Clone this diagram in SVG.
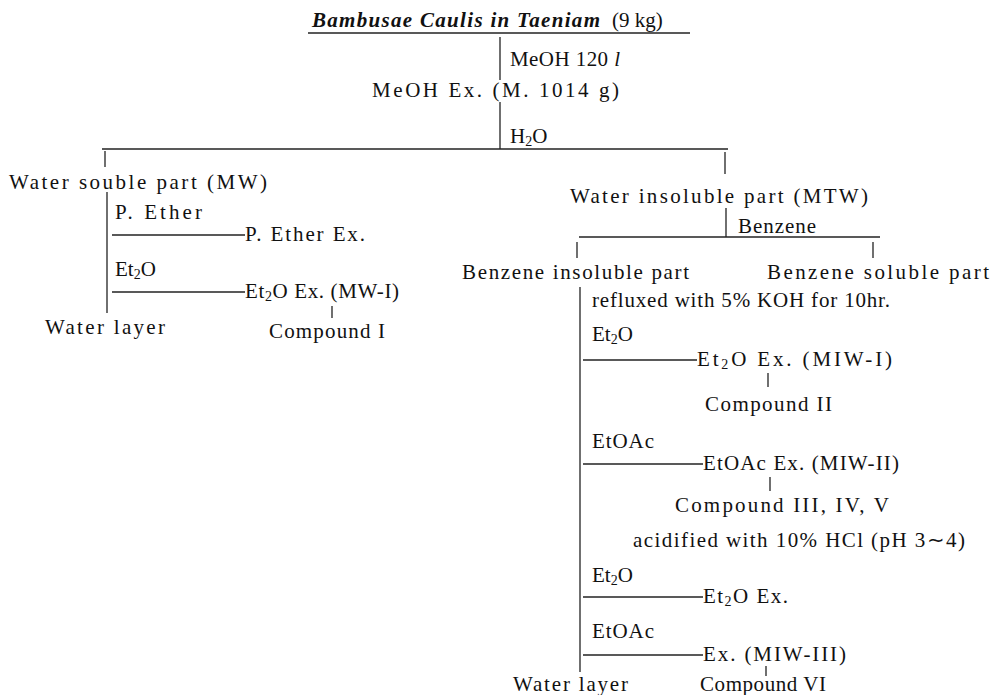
<svg xmlns="http://www.w3.org/2000/svg" width="999" height="695" viewBox="0 0 999 695">
<style>
text{font-family:"Liberation Serif","Times New Roman",serif;font-size:21px;fill:#111}
.ti{font-style:italic;font-weight:bold}
.sub{font-size:14px}
line{stroke:#222;stroke-width:1.3}
</style>
<rect width="999" height="695" fill="#fff"/>
<g id="connectors">
<line x1="308" y1="33" x2="690" y2="33"/>
<line x1="500" y1="37" x2="500" y2="80"/>
<line x1="500" y1="102" x2="500" y2="149"/>
<line x1="102" y1="149" x2="728" y2="149"/>
<line x1="105" y1="151" x2="105" y2="167"/>
<line x1="725" y1="152" x2="725" y2="174"/>
<line x1="107" y1="192" x2="107" y2="313"/>
<line x1="112" y1="235" x2="245" y2="235"/>
<line x1="112" y1="292" x2="245" y2="292"/>
<line x1="332" y1="306" x2="332" y2="318"/>
<line x1="726" y1="208" x2="726" y2="237"/>
<line x1="579" y1="237" x2="880" y2="237"/>
<line x1="577" y1="242" x2="577" y2="258"/>
<line x1="873" y1="242" x2="873" y2="258"/>
<line x1="580" y1="287" x2="580" y2="672"/>
<line x1="583" y1="360" x2="697" y2="360"/>
<line x1="768" y1="373" x2="768" y2="387"/>
<line x1="583" y1="464" x2="703" y2="464"/>
<line x1="770" y1="477" x2="770" y2="491"/>
<line x1="583" y1="597" x2="703" y2="597"/>
<line x1="583" y1="655" x2="703" y2="655"/>
<line x1="766" y1="666" x2="766" y2="676"/>
</g>
<g id="n-source">
<text x="312" y="27" class="ti" textLength="288">Bambusae Caulis in Taeniam</text>
<text x="612" y="27" font-size="22">(9 kg)</text>
</g>
<g id="n-meoh-step"><text x="510" y="66" textLength="110">MeOH 120 <tspan font-style="italic">l</tspan></text></g>
<g id="n-meoh-ex"><text x="372" y="97" textLength="247">MeOH Ex. (M. 1014 g)</text></g>
<g id="n-h2o-step"><text x="510" y="143">H<tspan class="sub" dy="3">2</tspan><tspan dy="-3">O</tspan></text></g>
<g id="n-mw"><text x="9" y="189" textLength="258">Water souble part (MW)</text></g>
<g id="n-pether-step"><text x="115" y="219" textLength="87">P. Ether</text></g>
<g id="n-pether-ex"><text x="245" y="241" textLength="120">P. Ether Ex.</text></g>
<g id="n-et2o-step1"><text x="115" y="276">Et<tspan class="sub" dy="3">2</tspan><tspan dy="-3">O</tspan></text></g>
<g id="n-mw-i"><text x="245" y="298" textLength="154">Et<tspan class="sub" dy="3">2</tspan><tspan dy="-3">O Ex. (MW-I)</tspan></text></g>
<g id="n-compound-i"><text x="269" y="338" textLength="116">Compound I</text></g>
<g id="n-water-layer1"><text x="45" y="334" textLength="120">Water layer</text></g>
<g id="n-mtw"><text x="570" y="203" textLength="298">Water insoluble part (MTW)</text></g>
<g id="n-benzene-step"><text x="738" y="233" textLength="78">Benzene</text></g>
<g id="n-benz-insol"><text x="462" y="279" textLength="227">Benzene insoluble part</text></g>
<g id="n-benz-sol"><text x="767" y="279" textLength="222">Benzene soluble part</text></g>
<g id="n-reflux"><text x="592" y="307" textLength="298">refluxed with 5% KOH for 10hr.</text></g>
<g id="n-et2o-step2"><text x="592" y="341">Et<tspan class="sub" dy="3">2</tspan><tspan dy="-3">O</tspan></text></g>
<g id="n-miw-i"><text x="697" y="366" textLength="195">Et<tspan class="sub" dy="3">2</tspan><tspan dy="-3">O Ex. (MIW-I)</tspan></text></g>
<g id="n-compound-ii"><text x="705" y="411" textLength="127">Compound II</text></g>
<g id="n-etoac-step1"><text x="592" y="448" textLength="62">EtOAc</text></g>
<g id="n-miw-ii"><text x="703" y="470" textLength="196">EtOAc Ex. (MIW-II)</text></g>
<g id="n-compound-iii"><text x="675" y="512" textLength="214">Compound III, IV, V</text></g>
<g id="n-acid"><text x="633" y="547" textLength="332">acidified with 10% HCl (pH 3∼4)</text></g>
<g id="n-et2o-step3"><text x="592" y="582">Et<tspan class="sub" dy="3">2</tspan><tspan dy="-3">O</tspan></text></g>
<g id="n-et2o-ex"><text x="703" y="603" textLength="85">Et<tspan class="sub" dy="3">2</tspan><tspan dy="-3">O Ex.</tspan></text></g>
<g id="n-etoac-step2"><text x="592" y="638" textLength="62">EtOAc</text></g>
<g id="n-miw-iii"><text x="703" y="661" textLength="143">Ex. (MIW-III)</text></g>
<g id="n-water-layer2"><text x="513" y="691" textLength="115">Water layer</text></g>
<g id="n-compound-vi"><text x="700" y="691" textLength="126">Compound VI</text></g>
</svg>
